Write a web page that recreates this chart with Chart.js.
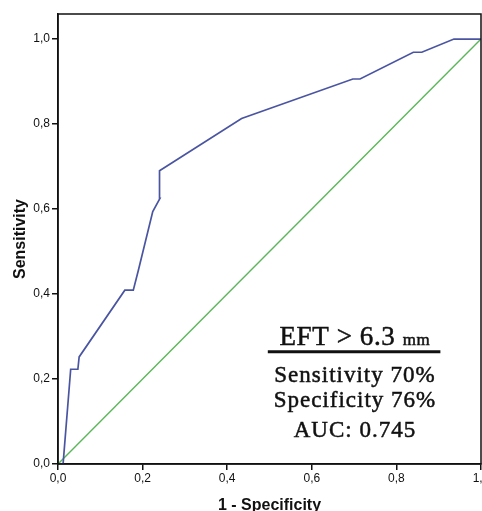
<!DOCTYPE html>
<html>
<head>
<meta charset="utf-8">
<script src="https://cdn.jsdelivr.net/npm/chart.js@4.4.0/dist/chart.umd.min.js"></script>
<style>
html,body{margin:0;padding:0;background:#fff;overflow:hidden;}
#wrap{width:500px;height:520px;position:relative;}
</style>
</head>
<body>
<div id="wrap"><canvas id="c" width="500" height="520"></canvas></div>
<script>
// ROC curve (1 - specificity, sensitivity)
const rocX = [0, 0.012, 0.030, 0.047, 0.050, 0.158, 0.178, 0.190, 0.224, 0.241, 0.240, 0.434, 0.697, 0.714, 0.840, 0.860, 0.936, 1.0];
const rocY = [0, 0, 0.223, 0.223, 0.252, 0.409, 0.409, 0.456, 0.594, 0.625, 0.690, 0.813, 0.906, 0.906, 0.969, 0.969, 1.0, 1.0];
// Reference diagonal
const refX = [0, 1];
const refY = [0, 1];
const tickValues = [0, 0.2, 0.4, 0.6, 0.8, 1.0];
const xTitle = '1 - Specificity';
const yTitle = 'Sensitivity';
const boxTitle = 'EFT > 6.3';
const boxUnit = 'mm';
const boxLines = ['Sensitivity 70%', 'Specificity 76%', 'AUC: 0.745'];

const toPts = (xs, ys) => xs.map((x, i) => ({x: x, y: ys[i]}));
const fmt = v => Number(v).toFixed(1).replace('.', ',');
const SERIF = '"Liberation Serif", "Times New Roman", serif';
const SANS = '"Liberation Sans", Arial, sans-serif';

const framePlugin = {
  id: 'frame',
  afterDraw(chart) {
    const {ctx, chartArea: a, scales} = chart;
    ctx.save();
    ctx.strokeStyle = '#111';
    ctx.lineWidth = 1.5;
    ctx.strokeRect(a.left, a.top, a.right - a.left, a.bottom - a.top);
    // annotation box
    const sx = scales.x, sy = scales.y;
    const cx = sx.getPixelForValue(0.702);
    ctx.fillStyle = '#111';
    ctx.textBaseline = 'alphabetic';
    ctx.letterSpacing = '0.6px';
    const draw = (t, x, y) => { ctx.fillText(t, x, y); ctx.strokeText(t, x, y); };
    ctx.font = '27px ' + SERIF;
    const w1 = ctx.measureText(boxTitle + ' ').width;
    ctx.font = '17px ' + SERIF;
    const w2 = ctx.measureText(boxUnit).width;
    const start = cx - (w1 + w2) / 2;
    const by = sy.getPixelForValue(0.28);
    ctx.textAlign = 'left';
    ctx.lineWidth = 0.5;
    ctx.font = '27px ' + SERIF;
    draw(boxTitle + ' ', start, by);
    ctx.font = '17px ' + SERIF;
    draw(boxUnit, start + w1, by);
    // underline
    ctx.lineWidth = 3;
    ctx.beginPath();
    const uy = sy.getPixelForValue(0.264);
    ctx.moveTo(sx.getPixelForValue(0.496), uy);
    ctx.lineTo(sx.getPixelForValue(0.904), uy);
    ctx.stroke();
    ctx.lineWidth = 0.5;
    ctx.textAlign = 'center';
    ctx.letterSpacing = '1px';
    ctx.font = '23px ' + SERIF;
    const lineY = [0.194, 0.134, 0.064];
    boxLines.forEach((t, i) => draw(t, cx, sy.getPixelForValue(lineY[i])));
    ctx.restore();
  }
};

new Chart(document.getElementById('c'), {
  type: 'scatter',
  data: {
    datasets: [
      {data: toPts(rocX, rocY), showLine: true, borderColor: '#4a55a2', borderWidth: 1.7, pointRadius: 0, tension: 0, order: 1},
      {data: toPts(refX, refY), showLine: true, borderColor: '#5bb65a', borderWidth: 1.4, pointRadius: 0, tension: 0, order: 2}
    ]
  },
  options: {
    responsive: false,
    animation: false,
    events: [],
    layout: {padding: {left: 0, top: 14, right: 19, bottom: 0}},
    plugins: {legend: {display: false}, tooltip: {enabled: false}},
    scales: {
      x: {
        type: 'linear', min: 0, max: 1.0,
        afterBuildTicks: s => { s.ticks = tickValues.map(v => ({value: v})); },
        afterFit: s => { s.height = 56; },
        grid: {display: true, drawOnChartArea: false, drawTicks: true, tickLength: 6, color: '#111', lineWidth: 1.5},
        border: {display: true, color: '#111', width: 1.5},
        ticks: {callback: v => fmt(v), color: '#111', padding: 1, maxRotation: 0, font: {family: SANS, size: 12}},
        title: {display: true, text: xTitle, color: '#111', padding: {top: 0, bottom: 5}, font: {family: SANS, size: 16, weight: 'bold'}}
      },
      y: {
        type: 'linear', min: 0, max: 1.059,
        afterBuildTicks: s => { s.ticks = tickValues.map(v => ({value: v})); },
        afterFit: s => { s.width = 58; },
        grid: {display: true, drawOnChartArea: false, drawTicks: true, tickLength: 6, color: '#111', lineWidth: 1.5},
        border: {display: true, color: '#111', width: 1.5},
        ticks: {callback: v => fmt(v), color: '#111', padding: 2, font: {family: SANS, size: 12}},
        title: {display: true, text: yTitle, color: '#111', padding: {top: 11, bottom: 0}, font: {family: SANS, size: 16, weight: 'bold'}}
      }
    }
  },
  plugins: [framePlugin]
});
</script>
</body>
</html>
